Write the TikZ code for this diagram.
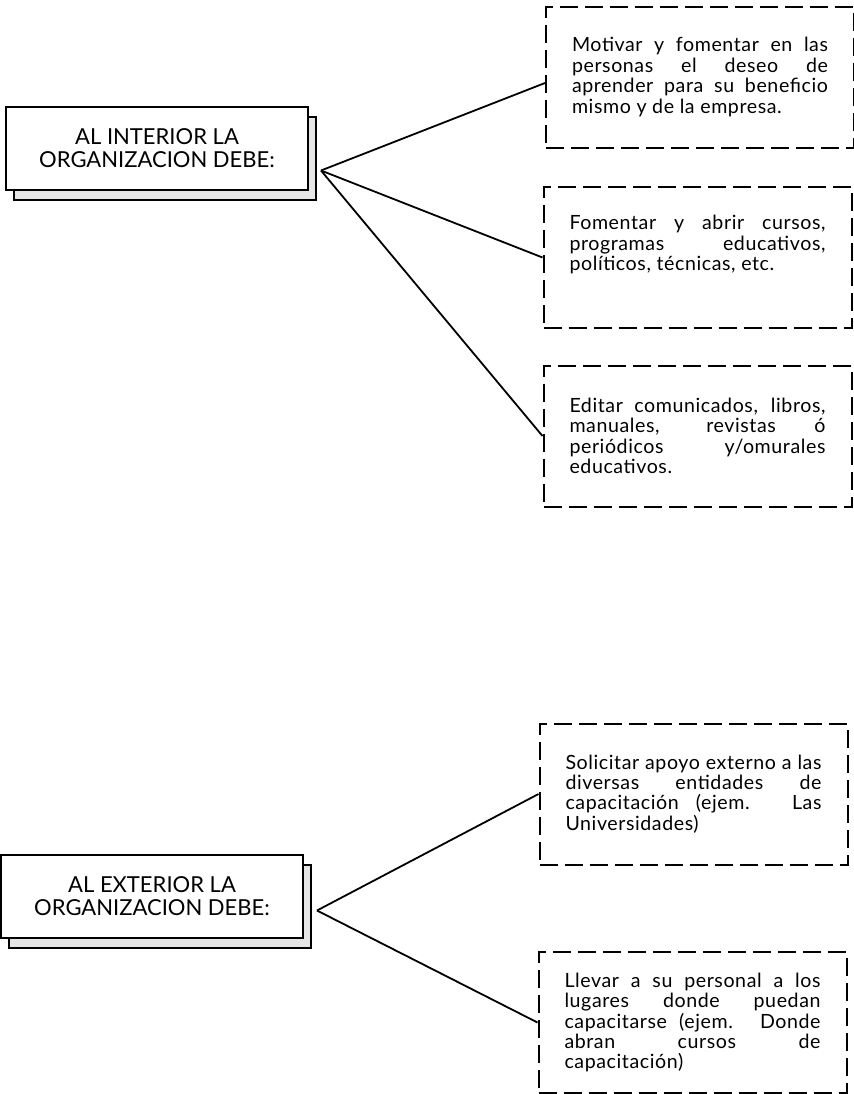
\documentclass[tikz,border=0pt]{standalone}
\usepackage{fontspec}
\setmainfont{Lato}
\newfontfamily\boxfont[LetterSpace=3]{Lato}
\usetikzlibrary{shadows}
\tikzset{titlebox/.style={draw, line width=1pt, fill=white, minimum width=151pt, minimum height=41.5pt, align=center, font=\fontsize{11}{11.5}\selectfont, general shadow={draw, line width=0.8pt, fill=gray!20, shadow xshift=4pt, shadow yshift=-5pt}}}
\tikzset{notebox/.style={draw, dash pattern=on 9pt off 3.5pt, line width=1pt, minimum width=154pt, minimum height=70.5pt, text width=128pt, align=justify, font=\boxfont\fontsize{9.8}{10.2}\selectfont}}
\tikzset{link/.style={line width=0.9pt}}

\begin{document}
\begin{tikzpicture}[x=0.5pt, y=-0.5pt]
\useasboundingbox (0,0) rectangle (854,1094);

\node[titlebox] (int) at (157, 148.5) {AL INTERIOR LA\\ORGANIZACION DEBE:};
\node[titlebox] (ext) at (152, 896.5) {AL EXTERIOR LA\\ORGANIZACION DEBE:};

\node[notebox] (i1) at (700, 77) {Motivar y fomentar en las\linebreak personas el deseo de\linebreak aprender para su beneficio\linebreak mismo y de la empresa.};
\node[notebox] (i2) at (697.5, 257.5) {Fomentar y abrir cursos,\linebreak programas educativos,\linebreak políticos, técnicas, etc.\par\rule{0pt}{12pt}};
\node[notebox] (i3) at (697.5, 436) {Editar comunicados, libros,\linebreak manuales, revistas ó\linebreak periódicos y/omurales\linebreak educativos.};

\node[notebox] (e1) at (693.5, 794) {Solicitar apoyo externo a las\linebreak diversas entidades de\linebreak capacitación (ejem. Las\linebreak Universidades)};
\node[notebox] (e2) at (692.5, 1022.5) {Llevar a su personal a los\linebreak lugares donde puedan\linebreak capacitarse (ejem. Donde\linebreak abran cursos de\linebreak capacitación)};

\coordinate (intc) at ([xshift=6pt, yshift=-11pt]int.east);
\coordinate (extc) at ([xshift=6.5pt, yshift=-7pt]ext.east);

\draw[link] (intc) -- ([yshift=-3pt]i1.west);
\draw[link] (intc) -- (i2.west);
\draw[link] (intc) -- (i3.west);
\draw[link] (extc) -- (e1.west);
\draw[link] (extc) -- (e2.west);

\end{tikzpicture}
\end{document}
